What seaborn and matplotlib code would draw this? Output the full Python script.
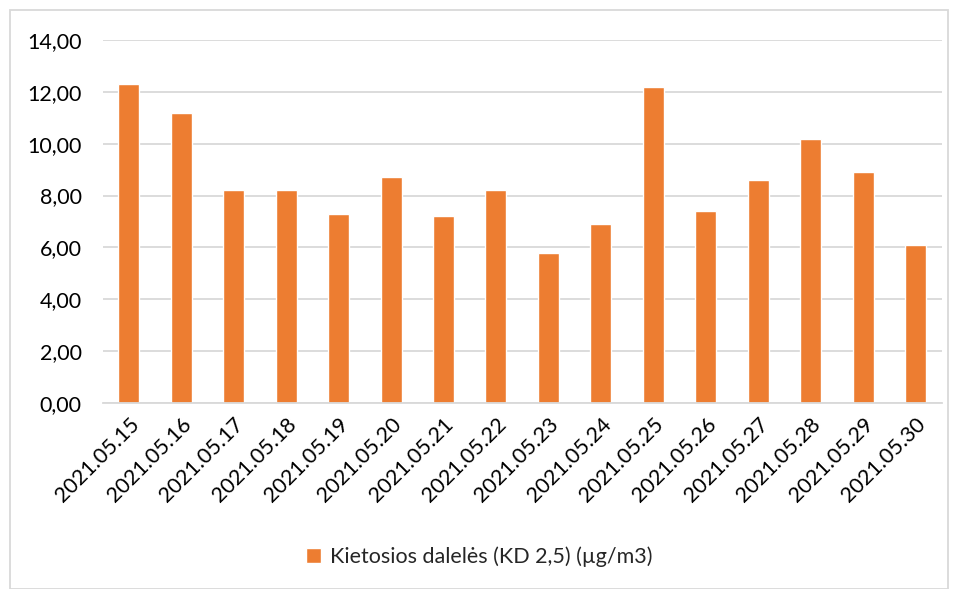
import pandas as pd
import seaborn as sns
import matplotlib.pyplot as plt
from matplotlib.patches import Rectangle

sns.set_theme(style="white")
plt.rcParams['font.family'] = ['Lato', 'DejaVu Sans']

dates = ['2021.05.15', '2021.05.16', '2021.05.17', '2021.05.18', '2021.05.19',
         '2021.05.20', '2021.05.21', '2021.05.22', '2021.05.23', '2021.05.24',
         '2021.05.25', '2021.05.26', '2021.05.27', '2021.05.28', '2021.05.29',
         '2021.05.30']
values = [12.3, 11.2, 8.2, 8.2, 7.3, 8.7, 7.2, 8.2, 5.8, 6.9,
          12.2, 7.4, 8.6, 10.2, 8.9, 6.1]
series_name = 'Kietosios dalelės (KD 2,5) (µg/m3)'

df = pd.DataFrame({'Data': dates, 'Vertė': values, 'Serija': series_name})

fig = plt.figure(figsize=(9.59, 5.89), dpi=100)
ax = fig.add_axes([0.107, 0.316, 0.875, 0.616])

sns.barplot(data=df, x='Data', y='Vertė', hue='Serija', palette=['#ED7D31'],
            saturation=1, width=0.4, ax=ax, legend=True)

ax.set_ylim(0, 14)
ax.set_yticks(range(0, 15, 2))
ax.set_yticklabels([f'{v:.2f}'.replace('.', ',') for v in range(0, 15, 2)], fontsize=15.5)
ax.set_xlim(-0.5, len(dates) - 0.5)
ax.yaxis.grid(True, color='#d9d9d9', linewidth=1.3)
ax.set_axisbelow(True)
for s in ['top', 'right', 'left']:
    ax.spines[s].set_visible(False)
ax.spines['bottom'].set_color('#d9d9d9')
ax.spines['bottom'].set_linewidth(1.3)
ax.tick_params(axis='both', length=0, colors='black')
ax.tick_params(axis='y', pad=15)
ax.tick_params(axis='x', pad=8)
plt.setp(ax.get_xticklabels(), rotation=45, ha='right', rotation_mode='anchor', fontsize=15.5)
ax.set_xlabel('')
ax.set_ylabel('')

leg = ax.legend(loc='center', bbox_to_anchor=(0.5, 32 / 589), bbox_transform=fig.transFigure,
                frameon=False, fontsize=15.5, handlelength=0.7, handleheight=0.7, handletextpad=0.4)

fig.patches.append(Rectangle((10 / 959, 0), 938 / 959, 579 / 589, transform=fig.transFigure,
                             fill=False, edgecolor='#d9d9d9', linewidth=1.3))

fig.savefig('out.png', dpi=100)
